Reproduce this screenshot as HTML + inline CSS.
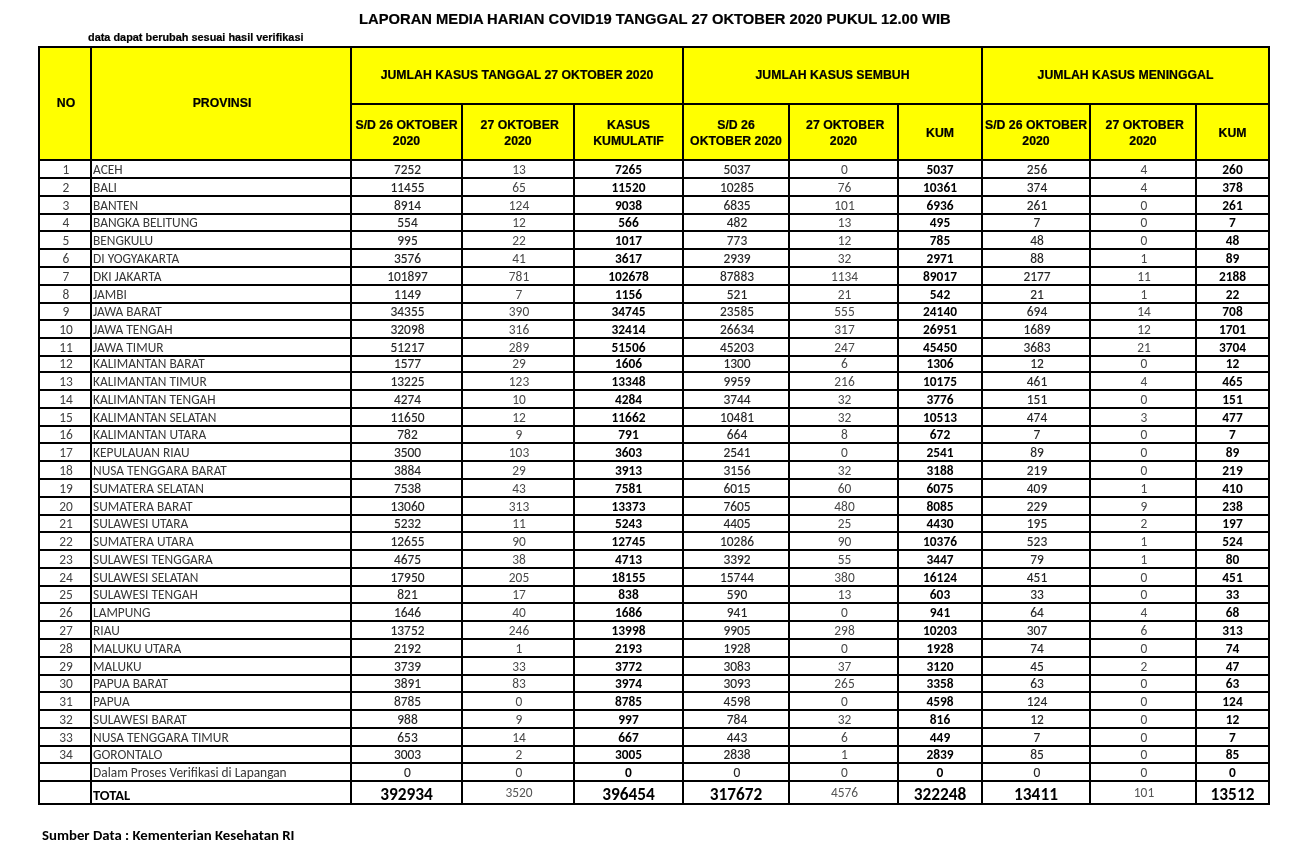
<!DOCTYPE html><html><head><meta charset="utf-8"><title>Laporan Media Harian COVID19</title><style>
html,body{margin:0;padding:0;background:#fff;}
body{width:1297px;height:851px;overflow:hidden;position:relative;filter:blur(0.35px);}
.l{position:absolute;background:#000;}
.y{position:absolute;background:#ff0;}
.t{position:absolute;white-space:nowrap;}
.h{font-family:"Liberation Sans",Arial,sans-serif;font-weight:bold;color:#000;text-align:center;-webkit-text-stroke:0.2px #000;}
.d{font-family:Carlito,Calibri,"Liberation Sans",sans-serif;font-size:13.4px;text-align:center;font-size-adjust:0.4776;}
.c0{color:#404040}.c1{color:#383838}.cs{color:#222;-webkit-text-stroke:0.1px #222}.co{color:#484848}.ck{color:#000;font-weight:bold;font-size-adjust:0.4849}

</style></head><body>
<div class="t h" style="left:359px;top:8.5px;font-size:14.75px;line-height:20px;text-align:left">LAPORAN MEDIA HARIAN COVID19 TANGGAL 27 OKTOBER 2020 PUKUL 12.00 WIB</div>
<div class="t h" style="left:88px;top:30px;font-size:10.9px;line-height:14px;text-align:left">data dapat berubah sesuai hasil verifikasi</div>
<div class="y" style="left:38px;top:46px;width:1232px;height:113px"></div>
<div class="t h" style="left:41px;width:50px;top:48px;height:111px;display:flex;align-items:center;justify-content:center;font-size:12.27px;line-height:15.8px">NO</div>
<div class="t h" style="left:93px;width:258px;top:48px;height:111px;display:flex;align-items:center;justify-content:center;font-size:12.27px;line-height:15.8px">PROVINSI</div>
<div class="t h" style="left:352px;width:330px;top:48px;height:55px;display:flex;align-items:center;justify-content:center;font-size:12.27px;line-height:15.8px">JUMLAH KASUS TANGGAL 27 OKTOBER 2020</div>
<div class="t h" style="left:684px;width:297px;top:48px;height:55px;display:flex;align-items:center;justify-content:center;font-size:12.27px;line-height:15.8px">JUMLAH KASUS SEMBUH</div>
<div class="t h" style="left:983px;width:285px;top:48px;height:55px;display:flex;align-items:center;justify-content:center;font-size:12.27px;line-height:15.8px">JUMLAH KASUS MENINGGAL</div>
<div class="t h" style="left:352px;width:109px;top:107px;height:54px;display:flex;align-items:center;justify-content:center;font-size:12.27px;line-height:15.8px">S/D 26 OKTOBER<br>2020</div>
<div class="t h" style="left:463px;width:110px;top:107px;height:54px;display:flex;align-items:center;justify-content:center;font-size:12.27px;line-height:15.8px">&nbsp;27 OKTOBER<br>2020</div>
<div class="t h" style="left:575px;width:107px;top:107px;height:54px;display:flex;align-items:center;justify-content:center;font-size:12.27px;line-height:15.8px">KASUS<br>KUMULATIF</div>
<div class="t h" style="left:684px;width:104px;top:107px;height:54px;display:flex;align-items:center;justify-content:center;font-size:12.27px;line-height:15.8px">S/D 26<br>OKTOBER 2020</div>
<div class="t h" style="left:790px;width:107px;top:107px;height:54px;display:flex;align-items:center;justify-content:center;font-size:12.27px;line-height:15.8px">&nbsp;27 OKTOBER<br>2020</div>
<div class="t h" style="left:899px;width:82px;top:107px;height:54px;display:flex;align-items:center;justify-content:center;font-size:12.27px;line-height:15.8px">KUM</div>
<div class="t h" style="left:983px;width:106px;top:107px;height:54px;display:flex;align-items:center;justify-content:center;font-size:12.27px;line-height:15.8px">S/D 26 OKTOBER<br>2020</div>
<div class="t h" style="left:1091px;width:104px;top:107px;height:54px;display:flex;align-items:center;justify-content:center;font-size:12.27px;line-height:15.8px">&nbsp;27 OKTOBER<br>2020</div>
<div class="t h" style="left:1197px;width:71px;top:107px;height:54px;display:flex;align-items:center;justify-content:center;font-size:12.27px;line-height:15.8px">KUM</div>
<div class="t d c0" style="left:41px;width:50px;top:162px;height:16px;line-height:16px">1</div>
<div class="t d c1" style="left:93px;top:162px;height:16px;line-height:16px;text-align:left">ACEH</div>
<div class="t d cs" style="left:353px;width:109px;top:162px;height:16px;line-height:16px">7252</div>
<div class="t d co" style="left:464px;width:110px;top:162px;height:16px;line-height:16px">13</div>
<div class="t d ck" style="left:575px;width:107px;top:162px;height:16px;line-height:16px">7265</div>
<div class="t d cs" style="left:685px;width:104px;top:162px;height:16px;line-height:16px">5037</div>
<div class="t d co" style="left:791px;width:107px;top:162px;height:16px;line-height:16px">0</div>
<div class="t d ck" style="left:899px;width:82px;top:162px;height:16px;line-height:16px">5037</div>
<div class="t d cs" style="left:984px;width:106px;top:162px;height:16px;line-height:16px">256</div>
<div class="t d co" style="left:1092px;width:104px;top:162px;height:16px;line-height:16px">4</div>
<div class="t d ck" style="left:1197px;width:71px;top:162px;height:16px;line-height:16px">260</div>
<div class="t d c0" style="left:41px;width:50px;top:180px;height:16px;line-height:16px">2</div>
<div class="t d c1" style="left:93px;top:180px;height:16px;line-height:16px;text-align:left">BALI</div>
<div class="t d cs" style="left:353px;width:109px;top:180px;height:16px;line-height:16px">11455</div>
<div class="t d co" style="left:464px;width:110px;top:180px;height:16px;line-height:16px">65</div>
<div class="t d ck" style="left:575px;width:107px;top:180px;height:16px;line-height:16px">11520</div>
<div class="t d cs" style="left:685px;width:104px;top:180px;height:16px;line-height:16px">10285</div>
<div class="t d co" style="left:791px;width:107px;top:180px;height:16px;line-height:16px">76</div>
<div class="t d ck" style="left:899px;width:82px;top:180px;height:16px;line-height:16px">10361</div>
<div class="t d cs" style="left:984px;width:106px;top:180px;height:16px;line-height:16px">374</div>
<div class="t d co" style="left:1092px;width:104px;top:180px;height:16px;line-height:16px">4</div>
<div class="t d ck" style="left:1197px;width:71px;top:180px;height:16px;line-height:16px">378</div>
<div class="t d c0" style="left:41px;width:50px;top:198px;height:16px;line-height:16px">3</div>
<div class="t d c1" style="left:93px;top:198px;height:16px;line-height:16px;text-align:left">BANTEN</div>
<div class="t d cs" style="left:353px;width:109px;top:198px;height:16px;line-height:16px">8914</div>
<div class="t d co" style="left:464px;width:110px;top:198px;height:16px;line-height:16px">124</div>
<div class="t d ck" style="left:575px;width:107px;top:198px;height:16px;line-height:16px">9038</div>
<div class="t d cs" style="left:685px;width:104px;top:198px;height:16px;line-height:16px">6835</div>
<div class="t d co" style="left:791px;width:107px;top:198px;height:16px;line-height:16px">101</div>
<div class="t d ck" style="left:899px;width:82px;top:198px;height:16px;line-height:16px">6936</div>
<div class="t d cs" style="left:984px;width:106px;top:198px;height:16px;line-height:16px">261</div>
<div class="t d co" style="left:1092px;width:104px;top:198px;height:16px;line-height:16px">0</div>
<div class="t d ck" style="left:1197px;width:71px;top:198px;height:16px;line-height:16px">261</div>
<div class="t d c0" style="left:41px;width:50px;top:215px;height:16px;line-height:16px">4</div>
<div class="t d c1" style="left:93px;top:215px;height:16px;line-height:16px;text-align:left">BANGKA BELITUNG</div>
<div class="t d cs" style="left:353px;width:109px;top:215px;height:16px;line-height:16px">554</div>
<div class="t d co" style="left:464px;width:110px;top:215px;height:16px;line-height:16px">12</div>
<div class="t d ck" style="left:575px;width:107px;top:215px;height:16px;line-height:16px">566</div>
<div class="t d cs" style="left:685px;width:104px;top:215px;height:16px;line-height:16px">482</div>
<div class="t d co" style="left:791px;width:107px;top:215px;height:16px;line-height:16px">13</div>
<div class="t d ck" style="left:899px;width:82px;top:215px;height:16px;line-height:16px">495</div>
<div class="t d cs" style="left:984px;width:106px;top:215px;height:16px;line-height:16px">7</div>
<div class="t d co" style="left:1092px;width:104px;top:215px;height:16px;line-height:16px">0</div>
<div class="t d ck" style="left:1197px;width:71px;top:215px;height:16px;line-height:16px">7</div>
<div class="t d c0" style="left:41px;width:50px;top:233px;height:16px;line-height:16px">5</div>
<div class="t d c1" style="left:93px;top:233px;height:16px;line-height:16px;text-align:left">BENGKULU</div>
<div class="t d cs" style="left:353px;width:109px;top:233px;height:16px;line-height:16px">995</div>
<div class="t d co" style="left:464px;width:110px;top:233px;height:16px;line-height:16px">22</div>
<div class="t d ck" style="left:575px;width:107px;top:233px;height:16px;line-height:16px">1017</div>
<div class="t d cs" style="left:685px;width:104px;top:233px;height:16px;line-height:16px">773</div>
<div class="t d co" style="left:791px;width:107px;top:233px;height:16px;line-height:16px">12</div>
<div class="t d ck" style="left:899px;width:82px;top:233px;height:16px;line-height:16px">785</div>
<div class="t d cs" style="left:984px;width:106px;top:233px;height:16px;line-height:16px">48</div>
<div class="t d co" style="left:1092px;width:104px;top:233px;height:16px;line-height:16px">0</div>
<div class="t d ck" style="left:1197px;width:71px;top:233px;height:16px;line-height:16px">48</div>
<div class="t d c0" style="left:41px;width:50px;top:251px;height:16px;line-height:16px">6</div>
<div class="t d c1" style="left:93px;top:251px;height:16px;line-height:16px;text-align:left">DI YOGYAKARTA</div>
<div class="t d cs" style="left:353px;width:109px;top:251px;height:16px;line-height:16px">3576</div>
<div class="t d co" style="left:464px;width:110px;top:251px;height:16px;line-height:16px">41</div>
<div class="t d ck" style="left:575px;width:107px;top:251px;height:16px;line-height:16px">3617</div>
<div class="t d cs" style="left:685px;width:104px;top:251px;height:16px;line-height:16px">2939</div>
<div class="t d co" style="left:791px;width:107px;top:251px;height:16px;line-height:16px">32</div>
<div class="t d ck" style="left:899px;width:82px;top:251px;height:16px;line-height:16px">2971</div>
<div class="t d cs" style="left:984px;width:106px;top:251px;height:16px;line-height:16px">88</div>
<div class="t d co" style="left:1092px;width:104px;top:251px;height:16px;line-height:16px">1</div>
<div class="t d ck" style="left:1197px;width:71px;top:251px;height:16px;line-height:16px">89</div>
<div class="t d c0" style="left:41px;width:50px;top:269px;height:16px;line-height:16px">7</div>
<div class="t d c1" style="left:93px;top:269px;height:16px;line-height:16px;text-align:left">DKI JAKARTA</div>
<div class="t d cs" style="left:353px;width:109px;top:269px;height:16px;line-height:16px">101897</div>
<div class="t d co" style="left:464px;width:110px;top:269px;height:16px;line-height:16px">781</div>
<div class="t d ck" style="left:575px;width:107px;top:269px;height:16px;line-height:16px">102678</div>
<div class="t d cs" style="left:685px;width:104px;top:269px;height:16px;line-height:16px">87883</div>
<div class="t d co" style="left:791px;width:107px;top:269px;height:16px;line-height:16px">1134</div>
<div class="t d ck" style="left:899px;width:82px;top:269px;height:16px;line-height:16px">89017</div>
<div class="t d cs" style="left:984px;width:106px;top:269px;height:16px;line-height:16px">2177</div>
<div class="t d co" style="left:1092px;width:104px;top:269px;height:16px;line-height:16px">11</div>
<div class="t d ck" style="left:1197px;width:71px;top:269px;height:16px;line-height:16px">2188</div>
<div class="t d c0" style="left:41px;width:50px;top:287px;height:16px;line-height:16px">8</div>
<div class="t d c1" style="left:93px;top:287px;height:16px;line-height:16px;text-align:left">JAMBI</div>
<div class="t d cs" style="left:353px;width:109px;top:287px;height:16px;line-height:16px">1149</div>
<div class="t d co" style="left:464px;width:110px;top:287px;height:16px;line-height:16px">7</div>
<div class="t d ck" style="left:575px;width:107px;top:287px;height:16px;line-height:16px">1156</div>
<div class="t d cs" style="left:685px;width:104px;top:287px;height:16px;line-height:16px">521</div>
<div class="t d co" style="left:791px;width:107px;top:287px;height:16px;line-height:16px">21</div>
<div class="t d ck" style="left:899px;width:82px;top:287px;height:16px;line-height:16px">542</div>
<div class="t d cs" style="left:984px;width:106px;top:287px;height:16px;line-height:16px">21</div>
<div class="t d co" style="left:1092px;width:104px;top:287px;height:16px;line-height:16px">1</div>
<div class="t d ck" style="left:1197px;width:71px;top:287px;height:16px;line-height:16px">22</div>
<div class="t d c0" style="left:41px;width:50px;top:304px;height:16px;line-height:16px">9</div>
<div class="t d c1" style="left:93px;top:304px;height:16px;line-height:16px;text-align:left">JAWA BARAT</div>
<div class="t d cs" style="left:353px;width:109px;top:304px;height:16px;line-height:16px">34355</div>
<div class="t d co" style="left:464px;width:110px;top:304px;height:16px;line-height:16px">390</div>
<div class="t d ck" style="left:575px;width:107px;top:304px;height:16px;line-height:16px">34745</div>
<div class="t d cs" style="left:685px;width:104px;top:304px;height:16px;line-height:16px">23585</div>
<div class="t d co" style="left:791px;width:107px;top:304px;height:16px;line-height:16px">555</div>
<div class="t d ck" style="left:899px;width:82px;top:304px;height:16px;line-height:16px">24140</div>
<div class="t d cs" style="left:984px;width:106px;top:304px;height:16px;line-height:16px">694</div>
<div class="t d co" style="left:1092px;width:104px;top:304px;height:16px;line-height:16px">14</div>
<div class="t d ck" style="left:1197px;width:71px;top:304px;height:16px;line-height:16px">708</div>
<div class="t d c0" style="left:41px;width:50px;top:322px;height:16px;line-height:16px">10</div>
<div class="t d c1" style="left:93px;top:322px;height:16px;line-height:16px;text-align:left">JAWA TENGAH</div>
<div class="t d cs" style="left:353px;width:109px;top:322px;height:16px;line-height:16px">32098</div>
<div class="t d co" style="left:464px;width:110px;top:322px;height:16px;line-height:16px">316</div>
<div class="t d ck" style="left:575px;width:107px;top:322px;height:16px;line-height:16px">32414</div>
<div class="t d cs" style="left:685px;width:104px;top:322px;height:16px;line-height:16px">26634</div>
<div class="t d co" style="left:791px;width:107px;top:322px;height:16px;line-height:16px">317</div>
<div class="t d ck" style="left:899px;width:82px;top:322px;height:16px;line-height:16px">26951</div>
<div class="t d cs" style="left:984px;width:106px;top:322px;height:16px;line-height:16px">1689</div>
<div class="t d co" style="left:1092px;width:104px;top:322px;height:16px;line-height:16px">12</div>
<div class="t d ck" style="left:1197px;width:71px;top:322px;height:16px;line-height:16px">1701</div>
<div class="t d c0" style="left:41px;width:50px;top:340px;height:16px;line-height:16px">11</div>
<div class="t d c1" style="left:93px;top:340px;height:16px;line-height:16px;text-align:left">JAWA TIMUR</div>
<div class="t d cs" style="left:353px;width:109px;top:340px;height:16px;line-height:16px">51217</div>
<div class="t d co" style="left:464px;width:110px;top:340px;height:16px;line-height:16px">289</div>
<div class="t d ck" style="left:575px;width:107px;top:340px;height:16px;line-height:16px">51506</div>
<div class="t d cs" style="left:685px;width:104px;top:340px;height:16px;line-height:16px">45203</div>
<div class="t d co" style="left:791px;width:107px;top:340px;height:16px;line-height:16px">247</div>
<div class="t d ck" style="left:899px;width:82px;top:340px;height:16px;line-height:16px">45450</div>
<div class="t d cs" style="left:984px;width:106px;top:340px;height:16px;line-height:16px">3683</div>
<div class="t d co" style="left:1092px;width:104px;top:340px;height:16px;line-height:16px">21</div>
<div class="t d ck" style="left:1197px;width:71px;top:340px;height:16px;line-height:16px">3704</div>
<div class="t d c0" style="left:41px;width:50px;top:356px;height:16px;line-height:16px">12</div>
<div class="t d c1" style="left:93px;top:356px;height:16px;line-height:16px;text-align:left">KALIMANTAN BARAT</div>
<div class="t d cs" style="left:353px;width:109px;top:356px;height:16px;line-height:16px">1577</div>
<div class="t d co" style="left:464px;width:110px;top:356px;height:16px;line-height:16px">29</div>
<div class="t d ck" style="left:575px;width:107px;top:356px;height:16px;line-height:16px">1606</div>
<div class="t d cs" style="left:685px;width:104px;top:356px;height:16px;line-height:16px">1300</div>
<div class="t d co" style="left:791px;width:107px;top:356px;height:16px;line-height:16px">6</div>
<div class="t d ck" style="left:899px;width:82px;top:356px;height:16px;line-height:16px">1306</div>
<div class="t d cs" style="left:984px;width:106px;top:356px;height:16px;line-height:16px">12</div>
<div class="t d co" style="left:1092px;width:104px;top:356px;height:16px;line-height:16px">0</div>
<div class="t d ck" style="left:1197px;width:71px;top:356px;height:16px;line-height:16px">12</div>
<div class="t d c0" style="left:41px;width:50px;top:374px;height:16px;line-height:16px">13</div>
<div class="t d c1" style="left:93px;top:374px;height:16px;line-height:16px;text-align:left">KALIMANTAN TIMUR</div>
<div class="t d cs" style="left:353px;width:109px;top:374px;height:16px;line-height:16px">13225</div>
<div class="t d co" style="left:464px;width:110px;top:374px;height:16px;line-height:16px">123</div>
<div class="t d ck" style="left:575px;width:107px;top:374px;height:16px;line-height:16px">13348</div>
<div class="t d cs" style="left:685px;width:104px;top:374px;height:16px;line-height:16px">9959</div>
<div class="t d co" style="left:791px;width:107px;top:374px;height:16px;line-height:16px">216</div>
<div class="t d ck" style="left:899px;width:82px;top:374px;height:16px;line-height:16px">10175</div>
<div class="t d cs" style="left:984px;width:106px;top:374px;height:16px;line-height:16px">461</div>
<div class="t d co" style="left:1092px;width:104px;top:374px;height:16px;line-height:16px">4</div>
<div class="t d ck" style="left:1197px;width:71px;top:374px;height:16px;line-height:16px">465</div>
<div class="t d c0" style="left:41px;width:50px;top:392px;height:16px;line-height:16px">14</div>
<div class="t d c1" style="left:93px;top:392px;height:16px;line-height:16px;text-align:left">KALIMANTAN TENGAH</div>
<div class="t d cs" style="left:353px;width:109px;top:392px;height:16px;line-height:16px">4274</div>
<div class="t d co" style="left:464px;width:110px;top:392px;height:16px;line-height:16px">10</div>
<div class="t d ck" style="left:575px;width:107px;top:392px;height:16px;line-height:16px">4284</div>
<div class="t d cs" style="left:685px;width:104px;top:392px;height:16px;line-height:16px">3744</div>
<div class="t d co" style="left:791px;width:107px;top:392px;height:16px;line-height:16px">32</div>
<div class="t d ck" style="left:899px;width:82px;top:392px;height:16px;line-height:16px">3776</div>
<div class="t d cs" style="left:984px;width:106px;top:392px;height:16px;line-height:16px">151</div>
<div class="t d co" style="left:1092px;width:104px;top:392px;height:16px;line-height:16px">0</div>
<div class="t d ck" style="left:1197px;width:71px;top:392px;height:16px;line-height:16px">151</div>
<div class="t d c0" style="left:41px;width:50px;top:410px;height:16px;line-height:16px">15</div>
<div class="t d c1" style="left:93px;top:410px;height:16px;line-height:16px;text-align:left">KALIMANTAN SELATAN</div>
<div class="t d cs" style="left:353px;width:109px;top:410px;height:16px;line-height:16px">11650</div>
<div class="t d co" style="left:464px;width:110px;top:410px;height:16px;line-height:16px">12</div>
<div class="t d ck" style="left:575px;width:107px;top:410px;height:16px;line-height:16px">11662</div>
<div class="t d cs" style="left:685px;width:104px;top:410px;height:16px;line-height:16px">10481</div>
<div class="t d co" style="left:791px;width:107px;top:410px;height:16px;line-height:16px">32</div>
<div class="t d ck" style="left:899px;width:82px;top:410px;height:16px;line-height:16px">10513</div>
<div class="t d cs" style="left:984px;width:106px;top:410px;height:16px;line-height:16px">474</div>
<div class="t d co" style="left:1092px;width:104px;top:410px;height:16px;line-height:16px">3</div>
<div class="t d ck" style="left:1197px;width:71px;top:410px;height:16px;line-height:16px">477</div>
<div class="t d c0" style="left:41px;width:50px;top:427px;height:16px;line-height:16px">16</div>
<div class="t d c1" style="left:93px;top:427px;height:16px;line-height:16px;text-align:left">KALIMANTAN UTARA</div>
<div class="t d cs" style="left:353px;width:109px;top:427px;height:16px;line-height:16px">782</div>
<div class="t d co" style="left:464px;width:110px;top:427px;height:16px;line-height:16px">9</div>
<div class="t d ck" style="left:575px;width:107px;top:427px;height:16px;line-height:16px">791</div>
<div class="t d cs" style="left:685px;width:104px;top:427px;height:16px;line-height:16px">664</div>
<div class="t d co" style="left:791px;width:107px;top:427px;height:16px;line-height:16px">8</div>
<div class="t d ck" style="left:899px;width:82px;top:427px;height:16px;line-height:16px">672</div>
<div class="t d cs" style="left:984px;width:106px;top:427px;height:16px;line-height:16px">7</div>
<div class="t d co" style="left:1092px;width:104px;top:427px;height:16px;line-height:16px">0</div>
<div class="t d ck" style="left:1197px;width:71px;top:427px;height:16px;line-height:16px">7</div>
<div class="t d c0" style="left:41px;width:50px;top:445px;height:16px;line-height:16px">17</div>
<div class="t d c1" style="left:93px;top:445px;height:16px;line-height:16px;text-align:left">KEPULAUAN RIAU</div>
<div class="t d cs" style="left:353px;width:109px;top:445px;height:16px;line-height:16px">3500</div>
<div class="t d co" style="left:464px;width:110px;top:445px;height:16px;line-height:16px">103</div>
<div class="t d ck" style="left:575px;width:107px;top:445px;height:16px;line-height:16px">3603</div>
<div class="t d cs" style="left:685px;width:104px;top:445px;height:16px;line-height:16px">2541</div>
<div class="t d co" style="left:791px;width:107px;top:445px;height:16px;line-height:16px">0</div>
<div class="t d ck" style="left:899px;width:82px;top:445px;height:16px;line-height:16px">2541</div>
<div class="t d cs" style="left:984px;width:106px;top:445px;height:16px;line-height:16px">89</div>
<div class="t d co" style="left:1092px;width:104px;top:445px;height:16px;line-height:16px">0</div>
<div class="t d ck" style="left:1197px;width:71px;top:445px;height:16px;line-height:16px">89</div>
<div class="t d c0" style="left:41px;width:50px;top:463px;height:16px;line-height:16px">18</div>
<div class="t d c1" style="left:93px;top:463px;height:16px;line-height:16px;text-align:left">NUSA TENGGARA BARAT</div>
<div class="t d cs" style="left:353px;width:109px;top:463px;height:16px;line-height:16px">3884</div>
<div class="t d co" style="left:464px;width:110px;top:463px;height:16px;line-height:16px">29</div>
<div class="t d ck" style="left:575px;width:107px;top:463px;height:16px;line-height:16px">3913</div>
<div class="t d cs" style="left:685px;width:104px;top:463px;height:16px;line-height:16px">3156</div>
<div class="t d co" style="left:791px;width:107px;top:463px;height:16px;line-height:16px">32</div>
<div class="t d ck" style="left:899px;width:82px;top:463px;height:16px;line-height:16px">3188</div>
<div class="t d cs" style="left:984px;width:106px;top:463px;height:16px;line-height:16px">219</div>
<div class="t d co" style="left:1092px;width:104px;top:463px;height:16px;line-height:16px">0</div>
<div class="t d ck" style="left:1197px;width:71px;top:463px;height:16px;line-height:16px">219</div>
<div class="t d c0" style="left:41px;width:50px;top:481px;height:16px;line-height:16px">19</div>
<div class="t d c1" style="left:93px;top:481px;height:16px;line-height:16px;text-align:left">SUMATERA SELATAN</div>
<div class="t d cs" style="left:353px;width:109px;top:481px;height:16px;line-height:16px">7538</div>
<div class="t d co" style="left:464px;width:110px;top:481px;height:16px;line-height:16px">43</div>
<div class="t d ck" style="left:575px;width:107px;top:481px;height:16px;line-height:16px">7581</div>
<div class="t d cs" style="left:685px;width:104px;top:481px;height:16px;line-height:16px">6015</div>
<div class="t d co" style="left:791px;width:107px;top:481px;height:16px;line-height:16px">60</div>
<div class="t d ck" style="left:899px;width:82px;top:481px;height:16px;line-height:16px">6075</div>
<div class="t d cs" style="left:984px;width:106px;top:481px;height:16px;line-height:16px">409</div>
<div class="t d co" style="left:1092px;width:104px;top:481px;height:16px;line-height:16px">1</div>
<div class="t d ck" style="left:1197px;width:71px;top:481px;height:16px;line-height:16px">410</div>
<div class="t d c0" style="left:41px;width:50px;top:499px;height:16px;line-height:16px">20</div>
<div class="t d c1" style="left:93px;top:499px;height:16px;line-height:16px;text-align:left">SUMATERA BARAT</div>
<div class="t d cs" style="left:353px;width:109px;top:499px;height:16px;line-height:16px">13060</div>
<div class="t d co" style="left:464px;width:110px;top:499px;height:16px;line-height:16px">313</div>
<div class="t d ck" style="left:575px;width:107px;top:499px;height:16px;line-height:16px">13373</div>
<div class="t d cs" style="left:685px;width:104px;top:499px;height:16px;line-height:16px">7605</div>
<div class="t d co" style="left:791px;width:107px;top:499px;height:16px;line-height:16px">480</div>
<div class="t d ck" style="left:899px;width:82px;top:499px;height:16px;line-height:16px">8085</div>
<div class="t d cs" style="left:984px;width:106px;top:499px;height:16px;line-height:16px">229</div>
<div class="t d co" style="left:1092px;width:104px;top:499px;height:16px;line-height:16px">9</div>
<div class="t d ck" style="left:1197px;width:71px;top:499px;height:16px;line-height:16px">238</div>
<div class="t d c0" style="left:41px;width:50px;top:516px;height:16px;line-height:16px">21</div>
<div class="t d c1" style="left:93px;top:516px;height:16px;line-height:16px;text-align:left">SULAWESI UTARA</div>
<div class="t d cs" style="left:353px;width:109px;top:516px;height:16px;line-height:16px">5232</div>
<div class="t d co" style="left:464px;width:110px;top:516px;height:16px;line-height:16px">11</div>
<div class="t d ck" style="left:575px;width:107px;top:516px;height:16px;line-height:16px">5243</div>
<div class="t d cs" style="left:685px;width:104px;top:516px;height:16px;line-height:16px">4405</div>
<div class="t d co" style="left:791px;width:107px;top:516px;height:16px;line-height:16px">25</div>
<div class="t d ck" style="left:899px;width:82px;top:516px;height:16px;line-height:16px">4430</div>
<div class="t d cs" style="left:984px;width:106px;top:516px;height:16px;line-height:16px">195</div>
<div class="t d co" style="left:1092px;width:104px;top:516px;height:16px;line-height:16px">2</div>
<div class="t d ck" style="left:1197px;width:71px;top:516px;height:16px;line-height:16px">197</div>
<div class="t d c0" style="left:41px;width:50px;top:534px;height:16px;line-height:16px">22</div>
<div class="t d c1" style="left:93px;top:534px;height:16px;line-height:16px;text-align:left">SUMATERA UTARA</div>
<div class="t d cs" style="left:353px;width:109px;top:534px;height:16px;line-height:16px">12655</div>
<div class="t d co" style="left:464px;width:110px;top:534px;height:16px;line-height:16px">90</div>
<div class="t d ck" style="left:575px;width:107px;top:534px;height:16px;line-height:16px">12745</div>
<div class="t d cs" style="left:685px;width:104px;top:534px;height:16px;line-height:16px">10286</div>
<div class="t d co" style="left:791px;width:107px;top:534px;height:16px;line-height:16px">90</div>
<div class="t d ck" style="left:899px;width:82px;top:534px;height:16px;line-height:16px">10376</div>
<div class="t d cs" style="left:984px;width:106px;top:534px;height:16px;line-height:16px">523</div>
<div class="t d co" style="left:1092px;width:104px;top:534px;height:16px;line-height:16px">1</div>
<div class="t d ck" style="left:1197px;width:71px;top:534px;height:16px;line-height:16px">524</div>
<div class="t d c0" style="left:41px;width:50px;top:552px;height:16px;line-height:16px">23</div>
<div class="t d c1" style="left:93px;top:552px;height:16px;line-height:16px;text-align:left">SULAWESI TENGGARA</div>
<div class="t d cs" style="left:353px;width:109px;top:552px;height:16px;line-height:16px">4675</div>
<div class="t d co" style="left:464px;width:110px;top:552px;height:16px;line-height:16px">38</div>
<div class="t d ck" style="left:575px;width:107px;top:552px;height:16px;line-height:16px">4713</div>
<div class="t d cs" style="left:685px;width:104px;top:552px;height:16px;line-height:16px">3392</div>
<div class="t d co" style="left:791px;width:107px;top:552px;height:16px;line-height:16px">55</div>
<div class="t d ck" style="left:899px;width:82px;top:552px;height:16px;line-height:16px">3447</div>
<div class="t d cs" style="left:984px;width:106px;top:552px;height:16px;line-height:16px">79</div>
<div class="t d co" style="left:1092px;width:104px;top:552px;height:16px;line-height:16px">1</div>
<div class="t d ck" style="left:1197px;width:71px;top:552px;height:16px;line-height:16px">80</div>
<div class="t d c0" style="left:41px;width:50px;top:570px;height:16px;line-height:16px">24</div>
<div class="t d c1" style="left:93px;top:570px;height:16px;line-height:16px;text-align:left">SULAWESI SELATAN</div>
<div class="t d cs" style="left:353px;width:109px;top:570px;height:16px;line-height:16px">17950</div>
<div class="t d co" style="left:464px;width:110px;top:570px;height:16px;line-height:16px">205</div>
<div class="t d ck" style="left:575px;width:107px;top:570px;height:16px;line-height:16px">18155</div>
<div class="t d cs" style="left:685px;width:104px;top:570px;height:16px;line-height:16px">15744</div>
<div class="t d co" style="left:791px;width:107px;top:570px;height:16px;line-height:16px">380</div>
<div class="t d ck" style="left:899px;width:82px;top:570px;height:16px;line-height:16px">16124</div>
<div class="t d cs" style="left:984px;width:106px;top:570px;height:16px;line-height:16px">451</div>
<div class="t d co" style="left:1092px;width:104px;top:570px;height:16px;line-height:16px">0</div>
<div class="t d ck" style="left:1197px;width:71px;top:570px;height:16px;line-height:16px">451</div>
<div class="t d c0" style="left:41px;width:50px;top:587px;height:16px;line-height:16px">25</div>
<div class="t d c1" style="left:93px;top:587px;height:16px;line-height:16px;text-align:left">SULAWESI TENGAH</div>
<div class="t d cs" style="left:353px;width:109px;top:587px;height:16px;line-height:16px">821</div>
<div class="t d co" style="left:464px;width:110px;top:587px;height:16px;line-height:16px">17</div>
<div class="t d ck" style="left:575px;width:107px;top:587px;height:16px;line-height:16px">838</div>
<div class="t d cs" style="left:685px;width:104px;top:587px;height:16px;line-height:16px">590</div>
<div class="t d co" style="left:791px;width:107px;top:587px;height:16px;line-height:16px">13</div>
<div class="t d ck" style="left:899px;width:82px;top:587px;height:16px;line-height:16px">603</div>
<div class="t d cs" style="left:984px;width:106px;top:587px;height:16px;line-height:16px">33</div>
<div class="t d co" style="left:1092px;width:104px;top:587px;height:16px;line-height:16px">0</div>
<div class="t d ck" style="left:1197px;width:71px;top:587px;height:16px;line-height:16px">33</div>
<div class="t d c0" style="left:41px;width:50px;top:605px;height:16px;line-height:16px">26</div>
<div class="t d c1" style="left:93px;top:605px;height:16px;line-height:16px;text-align:left">LAMPUNG</div>
<div class="t d cs" style="left:353px;width:109px;top:605px;height:16px;line-height:16px">1646</div>
<div class="t d co" style="left:464px;width:110px;top:605px;height:16px;line-height:16px">40</div>
<div class="t d ck" style="left:575px;width:107px;top:605px;height:16px;line-height:16px">1686</div>
<div class="t d cs" style="left:685px;width:104px;top:605px;height:16px;line-height:16px">941</div>
<div class="t d co" style="left:791px;width:107px;top:605px;height:16px;line-height:16px">0</div>
<div class="t d ck" style="left:899px;width:82px;top:605px;height:16px;line-height:16px">941</div>
<div class="t d cs" style="left:984px;width:106px;top:605px;height:16px;line-height:16px">64</div>
<div class="t d co" style="left:1092px;width:104px;top:605px;height:16px;line-height:16px">4</div>
<div class="t d ck" style="left:1197px;width:71px;top:605px;height:16px;line-height:16px">68</div>
<div class="t d c0" style="left:41px;width:50px;top:623px;height:16px;line-height:16px">27</div>
<div class="t d c1" style="left:93px;top:623px;height:16px;line-height:16px;text-align:left">RIAU</div>
<div class="t d cs" style="left:353px;width:109px;top:623px;height:16px;line-height:16px">13752</div>
<div class="t d co" style="left:464px;width:110px;top:623px;height:16px;line-height:16px">246</div>
<div class="t d ck" style="left:575px;width:107px;top:623px;height:16px;line-height:16px">13998</div>
<div class="t d cs" style="left:685px;width:104px;top:623px;height:16px;line-height:16px">9905</div>
<div class="t d co" style="left:791px;width:107px;top:623px;height:16px;line-height:16px">298</div>
<div class="t d ck" style="left:899px;width:82px;top:623px;height:16px;line-height:16px">10203</div>
<div class="t d cs" style="left:984px;width:106px;top:623px;height:16px;line-height:16px">307</div>
<div class="t d co" style="left:1092px;width:104px;top:623px;height:16px;line-height:16px">6</div>
<div class="t d ck" style="left:1197px;width:71px;top:623px;height:16px;line-height:16px">313</div>
<div class="t d c0" style="left:41px;width:50px;top:641px;height:16px;line-height:16px">28</div>
<div class="t d c1" style="left:93px;top:641px;height:16px;line-height:16px;text-align:left">MALUKU UTARA</div>
<div class="t d cs" style="left:353px;width:109px;top:641px;height:16px;line-height:16px">2192</div>
<div class="t d co" style="left:464px;width:110px;top:641px;height:16px;line-height:16px">1</div>
<div class="t d ck" style="left:575px;width:107px;top:641px;height:16px;line-height:16px">2193</div>
<div class="t d cs" style="left:685px;width:104px;top:641px;height:16px;line-height:16px">1928</div>
<div class="t d co" style="left:791px;width:107px;top:641px;height:16px;line-height:16px">0</div>
<div class="t d ck" style="left:899px;width:82px;top:641px;height:16px;line-height:16px">1928</div>
<div class="t d cs" style="left:984px;width:106px;top:641px;height:16px;line-height:16px">74</div>
<div class="t d co" style="left:1092px;width:104px;top:641px;height:16px;line-height:16px">0</div>
<div class="t d ck" style="left:1197px;width:71px;top:641px;height:16px;line-height:16px">74</div>
<div class="t d c0" style="left:41px;width:50px;top:659px;height:16px;line-height:16px">29</div>
<div class="t d c1" style="left:93px;top:659px;height:16px;line-height:16px;text-align:left">MALUKU</div>
<div class="t d cs" style="left:353px;width:109px;top:659px;height:16px;line-height:16px">3739</div>
<div class="t d co" style="left:464px;width:110px;top:659px;height:16px;line-height:16px">33</div>
<div class="t d ck" style="left:575px;width:107px;top:659px;height:16px;line-height:16px">3772</div>
<div class="t d cs" style="left:685px;width:104px;top:659px;height:16px;line-height:16px">3083</div>
<div class="t d co" style="left:791px;width:107px;top:659px;height:16px;line-height:16px">37</div>
<div class="t d ck" style="left:899px;width:82px;top:659px;height:16px;line-height:16px">3120</div>
<div class="t d cs" style="left:984px;width:106px;top:659px;height:16px;line-height:16px">45</div>
<div class="t d co" style="left:1092px;width:104px;top:659px;height:16px;line-height:16px">2</div>
<div class="t d ck" style="left:1197px;width:71px;top:659px;height:16px;line-height:16px">47</div>
<div class="t d c0" style="left:41px;width:50px;top:676px;height:16px;line-height:16px">30</div>
<div class="t d c1" style="left:93px;top:676px;height:16px;line-height:16px;text-align:left">PAPUA BARAT</div>
<div class="t d cs" style="left:353px;width:109px;top:676px;height:16px;line-height:16px">3891</div>
<div class="t d co" style="left:464px;width:110px;top:676px;height:16px;line-height:16px">83</div>
<div class="t d ck" style="left:575px;width:107px;top:676px;height:16px;line-height:16px">3974</div>
<div class="t d cs" style="left:685px;width:104px;top:676px;height:16px;line-height:16px">3093</div>
<div class="t d co" style="left:791px;width:107px;top:676px;height:16px;line-height:16px">265</div>
<div class="t d ck" style="left:899px;width:82px;top:676px;height:16px;line-height:16px">3358</div>
<div class="t d cs" style="left:984px;width:106px;top:676px;height:16px;line-height:16px">63</div>
<div class="t d co" style="left:1092px;width:104px;top:676px;height:16px;line-height:16px">0</div>
<div class="t d ck" style="left:1197px;width:71px;top:676px;height:16px;line-height:16px">63</div>
<div class="t d c0" style="left:41px;width:50px;top:694px;height:16px;line-height:16px">31</div>
<div class="t d c1" style="left:93px;top:694px;height:16px;line-height:16px;text-align:left">PAPUA</div>
<div class="t d cs" style="left:353px;width:109px;top:694px;height:16px;line-height:16px">8785</div>
<div class="t d co" style="left:464px;width:110px;top:694px;height:16px;line-height:16px">0</div>
<div class="t d ck" style="left:575px;width:107px;top:694px;height:16px;line-height:16px">8785</div>
<div class="t d cs" style="left:685px;width:104px;top:694px;height:16px;line-height:16px">4598</div>
<div class="t d co" style="left:791px;width:107px;top:694px;height:16px;line-height:16px">0</div>
<div class="t d ck" style="left:899px;width:82px;top:694px;height:16px;line-height:16px">4598</div>
<div class="t d cs" style="left:984px;width:106px;top:694px;height:16px;line-height:16px">124</div>
<div class="t d co" style="left:1092px;width:104px;top:694px;height:16px;line-height:16px">0</div>
<div class="t d ck" style="left:1197px;width:71px;top:694px;height:16px;line-height:16px">124</div>
<div class="t d c0" style="left:41px;width:50px;top:712px;height:16px;line-height:16px">32</div>
<div class="t d c1" style="left:93px;top:712px;height:16px;line-height:16px;text-align:left">SULAWESI BARAT</div>
<div class="t d cs" style="left:353px;width:109px;top:712px;height:16px;line-height:16px">988</div>
<div class="t d co" style="left:464px;width:110px;top:712px;height:16px;line-height:16px">9</div>
<div class="t d ck" style="left:575px;width:107px;top:712px;height:16px;line-height:16px">997</div>
<div class="t d cs" style="left:685px;width:104px;top:712px;height:16px;line-height:16px">784</div>
<div class="t d co" style="left:791px;width:107px;top:712px;height:16px;line-height:16px">32</div>
<div class="t d ck" style="left:899px;width:82px;top:712px;height:16px;line-height:16px">816</div>
<div class="t d cs" style="left:984px;width:106px;top:712px;height:16px;line-height:16px">12</div>
<div class="t d co" style="left:1092px;width:104px;top:712px;height:16px;line-height:16px">0</div>
<div class="t d ck" style="left:1197px;width:71px;top:712px;height:16px;line-height:16px">12</div>
<div class="t d c0" style="left:41px;width:50px;top:730px;height:16px;line-height:16px">33</div>
<div class="t d c1" style="left:93px;top:730px;height:16px;line-height:16px;text-align:left">NUSA TENGGARA TIMUR</div>
<div class="t d cs" style="left:353px;width:109px;top:730px;height:16px;line-height:16px">653</div>
<div class="t d co" style="left:464px;width:110px;top:730px;height:16px;line-height:16px">14</div>
<div class="t d ck" style="left:575px;width:107px;top:730px;height:16px;line-height:16px">667</div>
<div class="t d cs" style="left:685px;width:104px;top:730px;height:16px;line-height:16px">443</div>
<div class="t d co" style="left:791px;width:107px;top:730px;height:16px;line-height:16px">6</div>
<div class="t d ck" style="left:899px;width:82px;top:730px;height:16px;line-height:16px">449</div>
<div class="t d cs" style="left:984px;width:106px;top:730px;height:16px;line-height:16px">7</div>
<div class="t d co" style="left:1092px;width:104px;top:730px;height:16px;line-height:16px">0</div>
<div class="t d ck" style="left:1197px;width:71px;top:730px;height:16px;line-height:16px">7</div>
<div class="t d c0" style="left:41px;width:50px;top:747px;height:16px;line-height:16px">34</div>
<div class="t d c1" style="left:93px;top:747px;height:16px;line-height:16px;text-align:left">GORONTALO</div>
<div class="t d cs" style="left:353px;width:109px;top:747px;height:16px;line-height:16px">3003</div>
<div class="t d co" style="left:464px;width:110px;top:747px;height:16px;line-height:16px">2</div>
<div class="t d ck" style="left:575px;width:107px;top:747px;height:16px;line-height:16px">3005</div>
<div class="t d cs" style="left:685px;width:104px;top:747px;height:16px;line-height:16px">2838</div>
<div class="t d co" style="left:791px;width:107px;top:747px;height:16px;line-height:16px">1</div>
<div class="t d ck" style="left:899px;width:82px;top:747px;height:16px;line-height:16px">2839</div>
<div class="t d cs" style="left:984px;width:106px;top:747px;height:16px;line-height:16px">85</div>
<div class="t d co" style="left:1092px;width:104px;top:747px;height:16px;line-height:16px">0</div>
<div class="t d ck" style="left:1197px;width:71px;top:747px;height:16px;line-height:16px">85</div>
<div class="t d c1" style="left:93px;top:765px;height:16px;line-height:16px;text-align:left">Dalam Proses Verifikasi di Lapangan</div>
<div class="t d cs" style="left:353px;width:109px;top:765px;height:16px;line-height:16px">0</div>
<div class="t d co" style="left:464px;width:110px;top:765px;height:16px;line-height:16px">0</div>
<div class="t d ck" style="left:575px;width:107px;top:765px;height:16px;line-height:16px">0</div>
<div class="t d cs" style="left:685px;width:104px;top:765px;height:16px;line-height:16px">0</div>
<div class="t d co" style="left:791px;width:107px;top:765px;height:16px;line-height:16px">0</div>
<div class="t d ck" style="left:899px;width:82px;top:765px;height:16px;line-height:16px">0</div>
<div class="t d cs" style="left:984px;width:106px;top:765px;height:16px;line-height:16px">0</div>
<div class="t d co" style="left:1092px;width:104px;top:765px;height:16px;line-height:16px">0</div>
<div class="t d ck" style="left:1197px;width:71px;top:765px;height:16px;line-height:16px">0</div>
<div class="t d ck" style="left:93px;top:785.0px;line-height:20px;text-align:left;font-size:14.5px">TOTAL</div>
<div class="t d ck" style="left:352px;width:109px;top:784.5px;line-height:20px;font-size:17.3px">392934</div>
<div class="t d co" style="left:464px;width:110px;top:783.0px;line-height:20px;font-size:13.4px;color:#555">3520</div>
<div class="t d ck" style="left:575px;width:107px;top:784.5px;line-height:20px;font-size:17.3px">396454</div>
<div class="t d ck" style="left:684px;width:104px;top:784.5px;line-height:20px;font-size:17.3px">317672</div>
<div class="t d co" style="left:791px;width:107px;top:783.0px;line-height:20px;font-size:13.4px;color:#555">4576</div>
<div class="t d ck" style="left:899px;width:82px;top:784.5px;line-height:20px;font-size:17.3px">322248</div>
<div class="t d ck" style="left:983px;width:106px;top:784.5px;line-height:20px;font-size:17.3px">13411</div>
<div class="t d co" style="left:1092px;width:104px;top:783.0px;line-height:20px;font-size:13.4px;color:#555">101</div>
<div class="t d ck" style="left:1197px;width:71px;top:784.5px;line-height:20px;font-size:17.3px">13512</div>
<div class="l" style="left:38px;top:46px;width:1232px;height:2px"></div>
<div class="l" style="left:350px;top:103px;width:920px;height:2px"></div>
<div class="l" style="left:38px;top:159px;width:1232px;height:2px"></div>
<div class="l" style="left:38px;top:177px;width:1232px;height:2px"></div>
<div class="l" style="left:38px;top:195px;width:1232px;height:2px"></div>
<div class="l" style="left:38px;top:213px;width:1232px;height:2px"></div>
<div class="l" style="left:38px;top:230px;width:1232px;height:2px"></div>
<div class="l" style="left:38px;top:248px;width:1232px;height:2px"></div>
<div class="l" style="left:38px;top:266px;width:1232px;height:2px"></div>
<div class="l" style="left:38px;top:284px;width:1232px;height:2px"></div>
<div class="l" style="left:38px;top:302px;width:1232px;height:2px"></div>
<div class="l" style="left:38px;top:319px;width:1232px;height:2px"></div>
<div class="l" style="left:38px;top:337px;width:1232px;height:2px"></div>
<div class="l" style="left:38px;top:355px;width:1232px;height:2px"></div>
<div class="l" style="left:38px;top:371px;width:1232px;height:2px"></div>
<div class="l" style="left:38px;top:389px;width:1232px;height:2px"></div>
<div class="l" style="left:38px;top:407px;width:1232px;height:2px"></div>
<div class="l" style="left:38px;top:425px;width:1232px;height:2px"></div>
<div class="l" style="left:38px;top:442px;width:1232px;height:2px"></div>
<div class="l" style="left:38px;top:460px;width:1232px;height:2px"></div>
<div class="l" style="left:38px;top:478px;width:1232px;height:2px"></div>
<div class="l" style="left:38px;top:496px;width:1232px;height:2px"></div>
<div class="l" style="left:38px;top:514px;width:1232px;height:2px"></div>
<div class="l" style="left:38px;top:531px;width:1232px;height:2px"></div>
<div class="l" style="left:38px;top:549px;width:1232px;height:2px"></div>
<div class="l" style="left:38px;top:567px;width:1232px;height:2px"></div>
<div class="l" style="left:38px;top:585px;width:1232px;height:2px"></div>
<div class="l" style="left:38px;top:602px;width:1232px;height:2px"></div>
<div class="l" style="left:38px;top:620px;width:1232px;height:2px"></div>
<div class="l" style="left:38px;top:638px;width:1232px;height:2px"></div>
<div class="l" style="left:38px;top:656px;width:1232px;height:2px"></div>
<div class="l" style="left:38px;top:674px;width:1232px;height:2px"></div>
<div class="l" style="left:38px;top:691px;width:1232px;height:2px"></div>
<div class="l" style="left:38px;top:709px;width:1232px;height:2px"></div>
<div class="l" style="left:38px;top:727px;width:1232px;height:2px"></div>
<div class="l" style="left:38px;top:745px;width:1232px;height:2px"></div>
<div class="l" style="left:38px;top:762px;width:1232px;height:2px"></div>
<div class="l" style="left:38px;top:780px;width:1232px;height:2px"></div>
<div class="l" style="left:38px;top:803px;width:1232px;height:2px"></div>
<div class="l" style="left:38px;top:46px;width:2px;height:759px"></div>
<div class="l" style="left:90px;top:46px;width:2px;height:759px"></div>
<div class="l" style="left:350px;top:46px;width:2px;height:759px"></div>
<div class="l" style="left:461px;top:103px;width:2px;height:702px"></div>
<div class="l" style="left:573px;top:103px;width:2px;height:702px"></div>
<div class="l" style="left:682px;top:46px;width:2px;height:759px"></div>
<div class="l" style="left:788px;top:103px;width:2px;height:702px"></div>
<div class="l" style="left:897px;top:103px;width:2px;height:702px"></div>
<div class="l" style="left:981px;top:46px;width:2px;height:759px"></div>
<div class="l" style="left:1089px;top:103px;width:2px;height:702px"></div>
<div class="l" style="left:1195px;top:103px;width:2px;height:702px"></div>
<div class="l" style="left:1268px;top:46px;width:2px;height:759px"></div>
<div class="t" style="left:42px;top:825px;font-family:Carlito,Calibri,'Liberation Sans',sans-serif;font-weight:bold;font-size:14.8px;font-size-adjust:0.4849;line-height:20px;color:#000">Sumber Data : Kementerian Kesehatan RI</div>
</body></html>
